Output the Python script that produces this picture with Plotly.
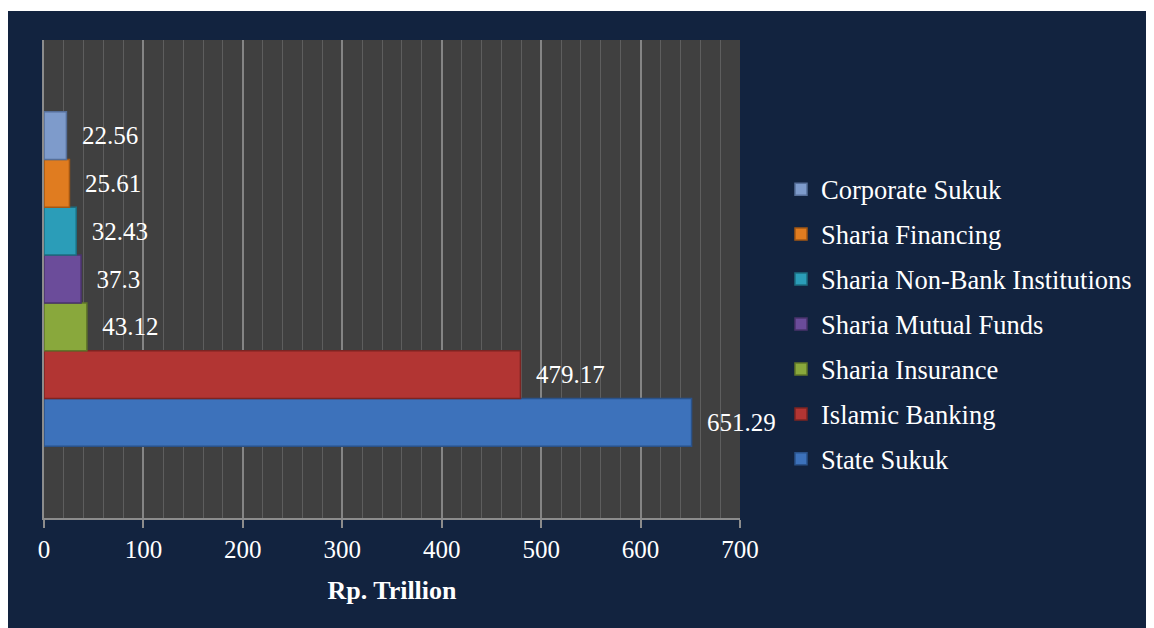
import plotly.graph_objects as go

series_names = ["State Sukuk", "Islamic Banking", "Sharia Insurance", "Sharia Mutual Funds",
                "Sharia Non-Bank Institutions", "Sharia Financing", "Corporate Sukuk"]
series_values = [651.29, 479.17, 43.12, 37.3, 32.43, 25.61, 22.56]
category = ["Islamic Finance"]
bar_colors = ["#3d72bb", "#b23533", "#89a83c", "#6b4c9a", "#2b9db8", "#e07c20", "#7e9bcb"]
line_colors = ["#2a528a", "#7d2422", "#5f7628", "#4a336c", "#1d6d80", "#a35713", "#566f99"]
x_ticks = [0, 100, 200, 300, 400, 500, 600, 700]

NAVY = "#12233f"
FONT = "Liberation Serif, Times New Roman, serif"

fig = go.Figure()
n = len(series_names)
for i, (name, val, c, lc) in enumerate(zip(series_names, series_values, bar_colors, line_colors)):
    fig.add_trace(go.Bar(
        y=category, x=[val], name=name, orientation="h",
        marker=dict(color=c, line=dict(color=lc, width=1.5)),
        text=["\u00a0\u00a0" + f"{val:g}"], textposition="outside",
        textfont=dict(family=FONT, size=25, color="white"),
        cliponaxis=False, legendgroup=name, legendrank=n - i,
    ))

L, T, W, H = 36, 32, 696, 478
R = 1154 - L - W
B = 628 - T - H

fig.update_layout(
    width=1154, height=628,
    paper_bgcolor=NAVY, plot_bgcolor="#404040",
    margin=dict(l=L, r=R, t=T, b=B),
    barmode="group", bargap=0.3, bargroupgap=0,
    font=dict(family=FONT, color="white", size=24),
    showlegend=True,
    legend=dict(
        x=1.0589, xanchor="left", y=0.405, yanchor="middle",
        traceorder="grouped", tracegroupgap=7.5,
        font=dict(family=FONT, size=26.5, color="white"),
        bgcolor="rgba(0,0,0,0)",
    ),
    xaxis=dict(
        range=[0, 700], tickvals=x_ticks, showgrid=True, gridcolor="#858585", gridwidth=1.5,
        minor=dict(dtick=20, showgrid=True, gridcolor="#5e5e5e", gridwidth=1.2),
        showline=True, linecolor="#8c8c8c", linewidth=2,
        ticks="outside", ticklen=8, tickcolor="#8c8c8c", tickwidth=2,
        tickfont=dict(family=FONT, size=25, color="white"),
        title=dict(text="<b>Rp. Trillion</b>", font=dict(family=FONT, size=26, color="white"), standoff=19),
        zeroline=False,
    ),
    yaxis=dict(
        showticklabels=False, showgrid=False, zeroline=False,
        showline=True, linecolor="#8c8c8c", linewidth=2,
    ),
    shapes=[
        dict(type="rect", xref="paper", yref="paper", layer="above",
             x0=-L / W - 0.01, x1=(1154 - L) / W + 0.01,
             y0=(628 - 3 - B) / H, y1=(628 - B) / H + 0.01,
             fillcolor="white", line=dict(width=0)),
    ],
)

fig.write_html("out.html")
